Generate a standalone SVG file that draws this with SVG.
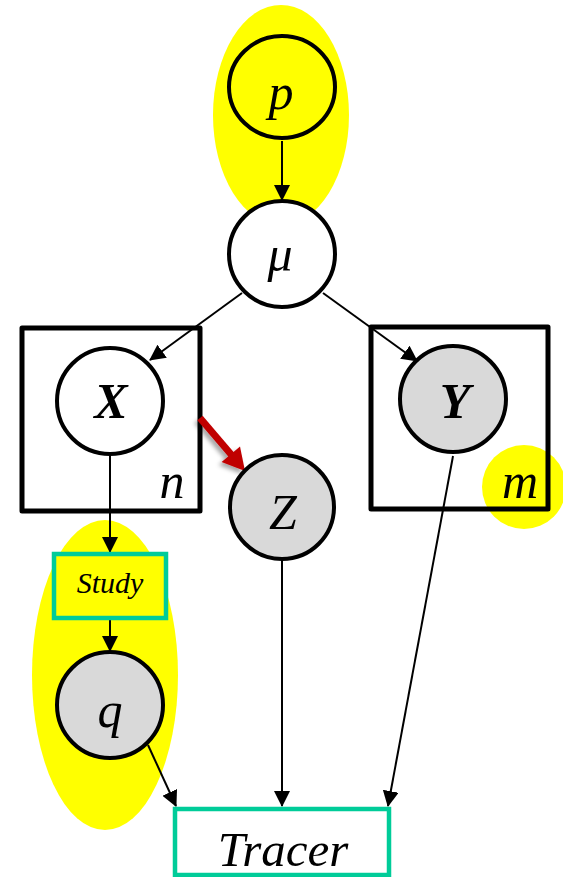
<svg xmlns="http://www.w3.org/2000/svg" width="563" height="877" viewBox="0 0 563 877">
<style>
.hl{fill:#FFFF00;stroke:none}
.node{stroke:#000;stroke-width:4}
.open{fill:#FFFFFF}
.obs{fill:#D9D9D9}
.plate{fill:none;stroke:#000;stroke-width:5;stroke-linejoin:round}
.tbox{stroke:#00CC99;stroke-width:4.5}
.lbl{font-family:"Liberation Serif","Times New Roman",serif;font-style:italic;font-size:50px;fill:#000;text-anchor:middle}
.bold{font-weight:bold}
.edge{stroke:#000;stroke-width:2;fill:none;marker-end:url(#ah)}
</style>
<defs>
<marker id="ah" markerUnits="userSpaceOnUse" markerWidth="16" markerHeight="16" viewBox="0 0 16 16" refX="15" refY="8" orient="auto">
<path d="M0,0 L16,8 L0,16 Z" fill="#000"/>
</marker>
<filter id="sh" x="-50%" y="-50%" width="200%" height="200%">
<feDropShadow dx="-3" dy="3" stdDeviation="2" flood-color="#000" flood-opacity="0.35"/>
</filter>
</defs>

<g id="highlights">
<ellipse class="hl" cx="281" cy="115" rx="68" ry="110"/>
<ellipse class="hl" cx="105" cy="675" rx="73" ry="155"/>
<circle class="hl" cx="524" cy="487" r="42"/>
</g>

<g id="plate-n">
<rect class="plate" x="22" y="328" width="178" height="183"/>
<text class="lbl" x="172" y="498">n</text>
</g>
<g id="plate-m">
<rect class="plate" x="371" y="327" width="177" height="182"/>
<text class="lbl" x="520" y="498">m</text>
</g>

<g id="connectors">
<line class="edge" x1="282" y1="141" x2="282" y2="200"/>
<line class="edge" x1="242" y1="293" x2="150" y2="360"/>
<line class="edge" x1="323" y1="293" x2="417" y2="361"/>
<line class="edge" x1="110" y1="456" x2="110" y2="552"/>
<line class="edge" x1="110" y1="620" x2="110" y2="651"/>
<line class="edge" x1="148" y1="745" x2="176" y2="806"/>
<line class="edge" x1="282" y1="561" x2="282" y2="806"/>
<line class="edge" x1="453" y1="456" x2="388" y2="806"/>
<g id="red-arrow" filter="url(#sh)">
<line x1="200" y1="418" x2="232" y2="455.5" stroke="#C00000" stroke-width="7"/>
<polygon points="245,471 221.6,462 240,446.4" fill="#C00000"/>
</g>
</g>

<g id="node-p">
<ellipse class="node" cx="282" cy="87" rx="53" ry="51" fill="none"/>
<text class="lbl" x="281" y="109">p</text>
</g>
<g id="node-mu">
<circle class="node open" cx="282" cy="254" r="53"/>
<text class="lbl" x="280" y="271">μ</text>
</g>
<g id="node-X">
<circle class="node open" cx="110" cy="401" r="53"/>
<text class="lbl bold" x="111" y="418">X</text>
</g>
<g id="node-Y">
<circle class="node obs" cx="453" cy="399" r="53"/>
<text class="lbl bold" x="455" y="418">Y</text>
</g>
<g id="node-Z">
<circle class="node obs" cx="282" cy="507" r="52"/>
<text class="lbl" x="283" y="529">Z</text>
</g>
<g id="node-Study">
<rect class="tbox" x="54" y="554" width="112" height="64" fill="#FFFF00"/>
<text class="lbl" x="110" y="593" style="font-size:30px">Study</text>
</g>
<g id="node-q">
<circle class="node obs" cx="110" cy="705" r="53"/>
<text class="lbl" x="110" y="727">q</text>
</g>
<g id="node-Tracer">
<rect class="tbox" x="175" y="809" width="214" height="66" fill="#FFFFFF"/>
<text class="lbl" x="283" y="866" style="font-size:49px">Tracer</text>
</g>
</svg>
